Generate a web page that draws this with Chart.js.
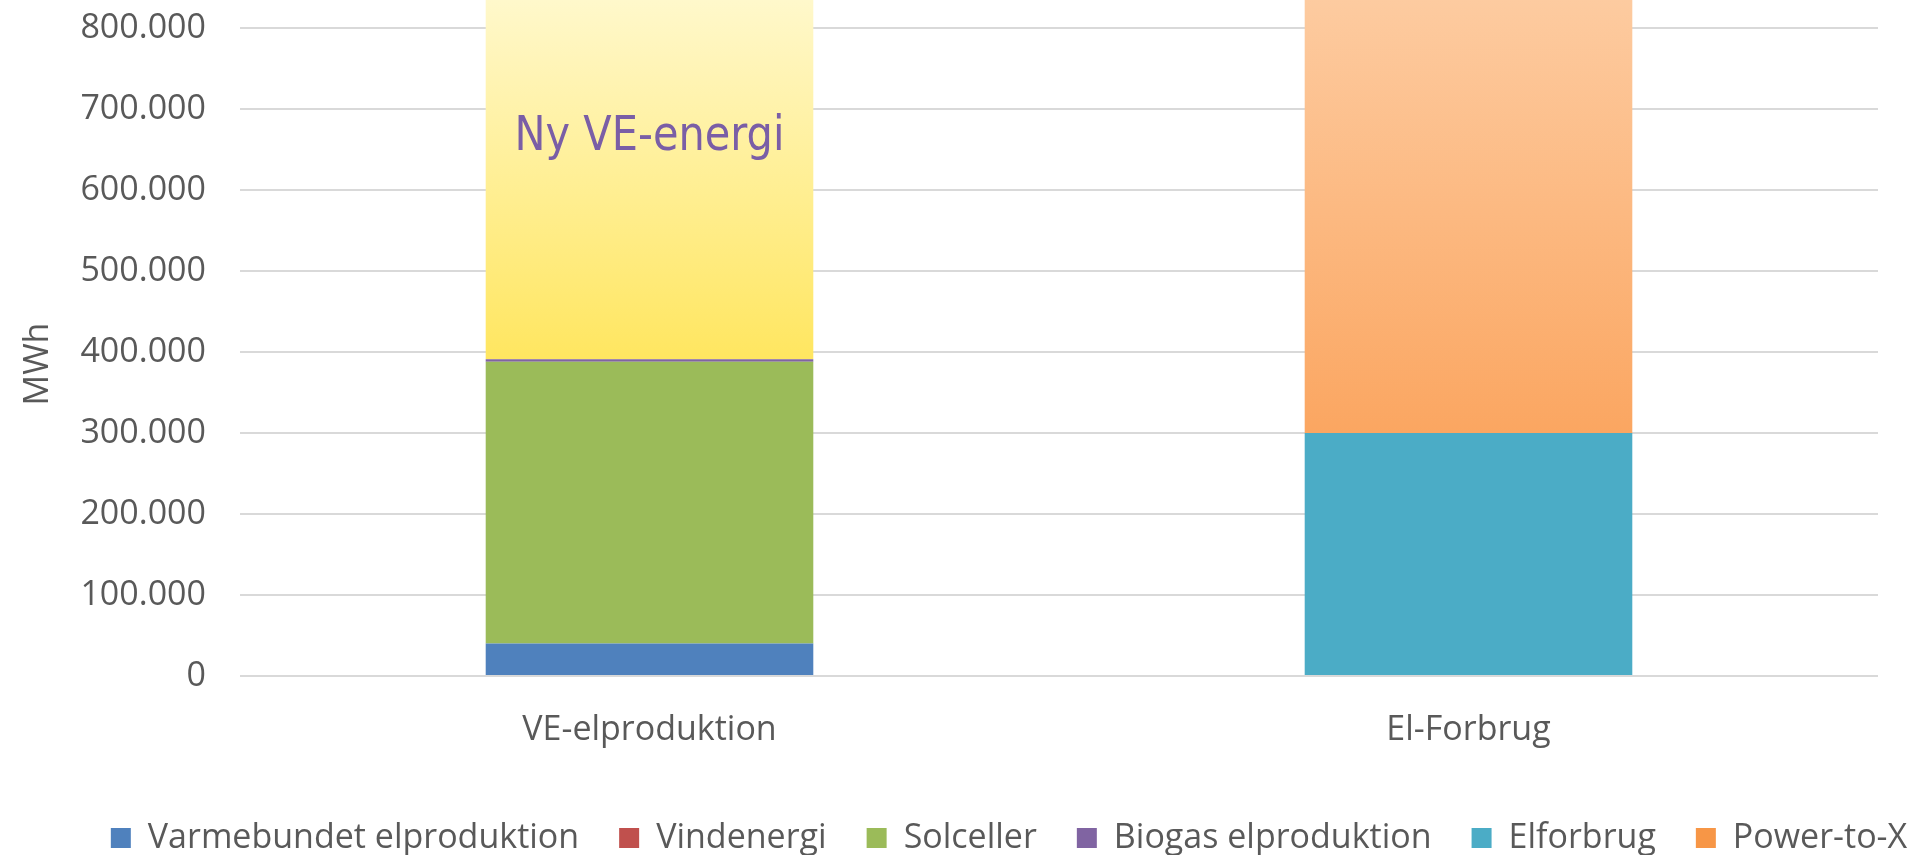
<!DOCTYPE html>
<html>
<head>
<meta charset="utf-8">
<script src="https://cdn.jsdelivr.net/npm/chart.js@4.4.1/dist/chart.umd.min.js"></script>
<style>
  html, body { margin: 0; padding: 0; width: 1915px; height: 855px; overflow: hidden; background: #ffffff; }
  #wrap { position: absolute; left: 0; top: -113px; width: 1915px; height: 978px; }
</style>
</head>
<body>
<div id="wrap"><canvas id="chart"></canvas></div>
<script>
// ---- data ----
const CATEGORIES = ['VE-elproduktion', 'El-Forbrug'];
const VARMEBUNDET = [40000, 0];
const VINDENERGI = [0, 0];
const SOLCELLER = [348000, 0];
const BIOGAS = [3000, 0];
const ELFORBRUG = [0, 300000];
const POWER_TO_X = [0, 600000];
const NY_VE_ENERGI = [509000, 0];
const SERIES_NAMES = ['Varmebundet elproduktion', 'Vindenergi', 'Solceller', 'Biogas elproduktion', 'Elforbrug', 'Power-to-X'];
const NY_VE_NAME = 'Ny VE-energi';
const Y_TICK_LABELS = ['0', '100.000', '200.000', '300.000', '400.000', '500.000', '600.000', '700.000', '800.000'];
const Y_STEP = 100000;
const Y_MAX = 900000;
const Y_TITLE = 'MWh';

// ---- styles ----
const SERIES_COLORS = ['#4F81BD', '#C0504D', '#9BBB59', '#8064A2', '#4BACC6', '#F79646'];
const YELLOW_GRAD = ['#FFE660', '#FFF8CB'];
const ORANGE_GRAD = ['#FBA661', '#FDCBA0'];
const GRAD_TOP_VALUE = 835000;
const NY_LABEL_VALUE = 650000;
const NY_LABEL_WIDTH = 270;
const TEXT_GREY = '#595959';
const Y_TITLE_POS = { x: 38, y: 477 };

Chart.defaults.font.family = '"Open Sans", sans-serif';
Chart.defaults.color = TEXT_GREY;

function gradientFill(bottomValue, colors) {
  return (ctx) => {
    const chart = ctx.chart;
    const y = chart.scales && chart.scales.y;
    if (!chart.chartArea || !y) return colors[0];
    const g = chart.ctx.createLinearGradient(0, y.getPixelForValue(bottomValue), 0, y.getPixelForValue(GRAD_TOP_VALUE));
    g.addColorStop(0, colors[0]);
    g.addColorStop(1, colors[1]);
    return g;
  };
}

const yellowBase = VARMEBUNDET[0] + VINDENERGI[0] + SOLCELLER[0] + BIOGAS[0];
const orangeBase = ELFORBRUG[1];

const datasets = [
  { label: SERIES_NAMES[0], data: VARMEBUNDET, backgroundColor: SERIES_COLORS[0] },
  { label: SERIES_NAMES[1], data: VINDENERGI, backgroundColor: SERIES_COLORS[1] },
  { label: SERIES_NAMES[2], data: SOLCELLER, backgroundColor: SERIES_COLORS[2] },
  { label: SERIES_NAMES[3], data: BIOGAS, backgroundColor: SERIES_COLORS[3] },
  { label: SERIES_NAMES[4], data: ELFORBRUG, backgroundColor: SERIES_COLORS[4] },
  { label: SERIES_NAMES[5], data: POWER_TO_X, backgroundColor: gradientFill(orangeBase, ORANGE_GRAD) },
  { label: NY_VE_NAME, data: NY_VE_ENERGI, backgroundColor: gradientFill(yellowBase, YELLOW_GRAD) }
];

const nyLabelPlugin = {
  id: 'nyLabel',
  afterDatasetsDraw(chart) {
    const idx = chart.data.datasets.findIndex(d => d.label === NY_VE_NAME);
    const el = chart.getDatasetMeta(idx).data[0];
    if (!el) return;
    const c = chart.ctx;
    const y = chart.scales.y.getPixelForValue(NY_LABEL_VALUE);
    c.save();
    c.font = '48px "DejaVu Sans", sans-serif';
    const w = c.measureText(NY_VE_NAME).width;
    const sx = NY_LABEL_WIDTH / w;
    c.translate(el.x, y);
    c.scale(sx, 1);
    c.fillStyle = '#7A5EA6';
    c.textAlign = 'center';
    c.textBaseline = 'alphabetic';
    c.fillText(NY_VE_NAME, 0, 0);
    c.restore();
  }
};

const yTitlePlugin = {
  id: 'yTitle',
  afterDraw(chart) {
    const c = chart.ctx;
    c.save();
    c.translate(Y_TITLE_POS.x, Y_TITLE_POS.y);
    c.rotate(-Math.PI / 2);
    c.font = '34px "Open Sans", sans-serif';
    c.fillStyle = TEXT_GREY;
    c.textAlign = 'center';
    c.textBaseline = 'middle';
    c.fillText(Y_TITLE, 0, 0);
    c.restore();
  }
};

const legendShiftPlugin = {
  id: 'legendShift',
  afterLayout(chart) {
    const l = chart.legend;
    if (!l) return;
    l.left += 70;
    l.right += 70;
  }
};

new Chart(document.getElementById('chart'), {
  type: 'bar',
  data: { labels: CATEGORIES, datasets },
  plugins: [nyLabelPlugin, yTitlePlugin, legendShiftPlugin],
  options: {
    responsive: true,
    maintainAspectRatio: false,
    animation: false,
    layout: { padding: { left: 0, right: 37, top: 60, bottom: 0 } },
    datasets: { bar: { categoryPercentage: 0.8, barPercentage: 0.5, borderWidth: 0 } },
    plugins: {
      tooltip: { enabled: false },
      legend: {
        position: 'bottom',
        labels: {
          boxWidth: 20,
          boxHeight: 20,
          padding: 40,
          color: TEXT_GREY,
          font: { size: 34 },
          filter: (item) => item.text !== NY_VE_NAME,
          generateLabels(chart) {
            const items = Chart.defaults.plugins.legend.labels.generateLabels(chart);
            items.forEach(it => {
              const i = SERIES_NAMES.indexOf(it.text);
              if (i >= 0) { it.fillStyle = SERIES_COLORS[i]; it.strokeStyle = SERIES_COLORS[i]; }
              it.lineWidth = 0;
            });
            return items;
          }
        }
      }
    },
    scales: {
      x: {
        stacked: true,
        grid: { display: false, drawTicks: false },
        border: { display: false },
        ticks: { color: TEXT_GREY, font: { size: 34 }, padding: 34 },
        afterFit(scale) { scale.height = 105; }
      },
      y: {
        stacked: true,
        min: 0,
        max: Y_MAX,
        grid: { color: '#D9D9D9', lineWidth: 2, drawTicks: false },
        border: { display: false },
        ticks: {
          stepSize: Y_STEP,
          color: TEXT_GREY,
          font: { size: 34 },
          padding: 34,
          callback: (v) => { const s = Y_TICK_LABELS[Math.round(v / Y_STEP)]; return s === undefined ? '' : s; }
        },
        title: { display: false, text: Y_TITLE },
        afterFit(scale) { scale.width = 240; scale.paddingTop = 0; scale.paddingBottom = 0; }
      }
    }
  }
});
</script>
</body>
</html>
